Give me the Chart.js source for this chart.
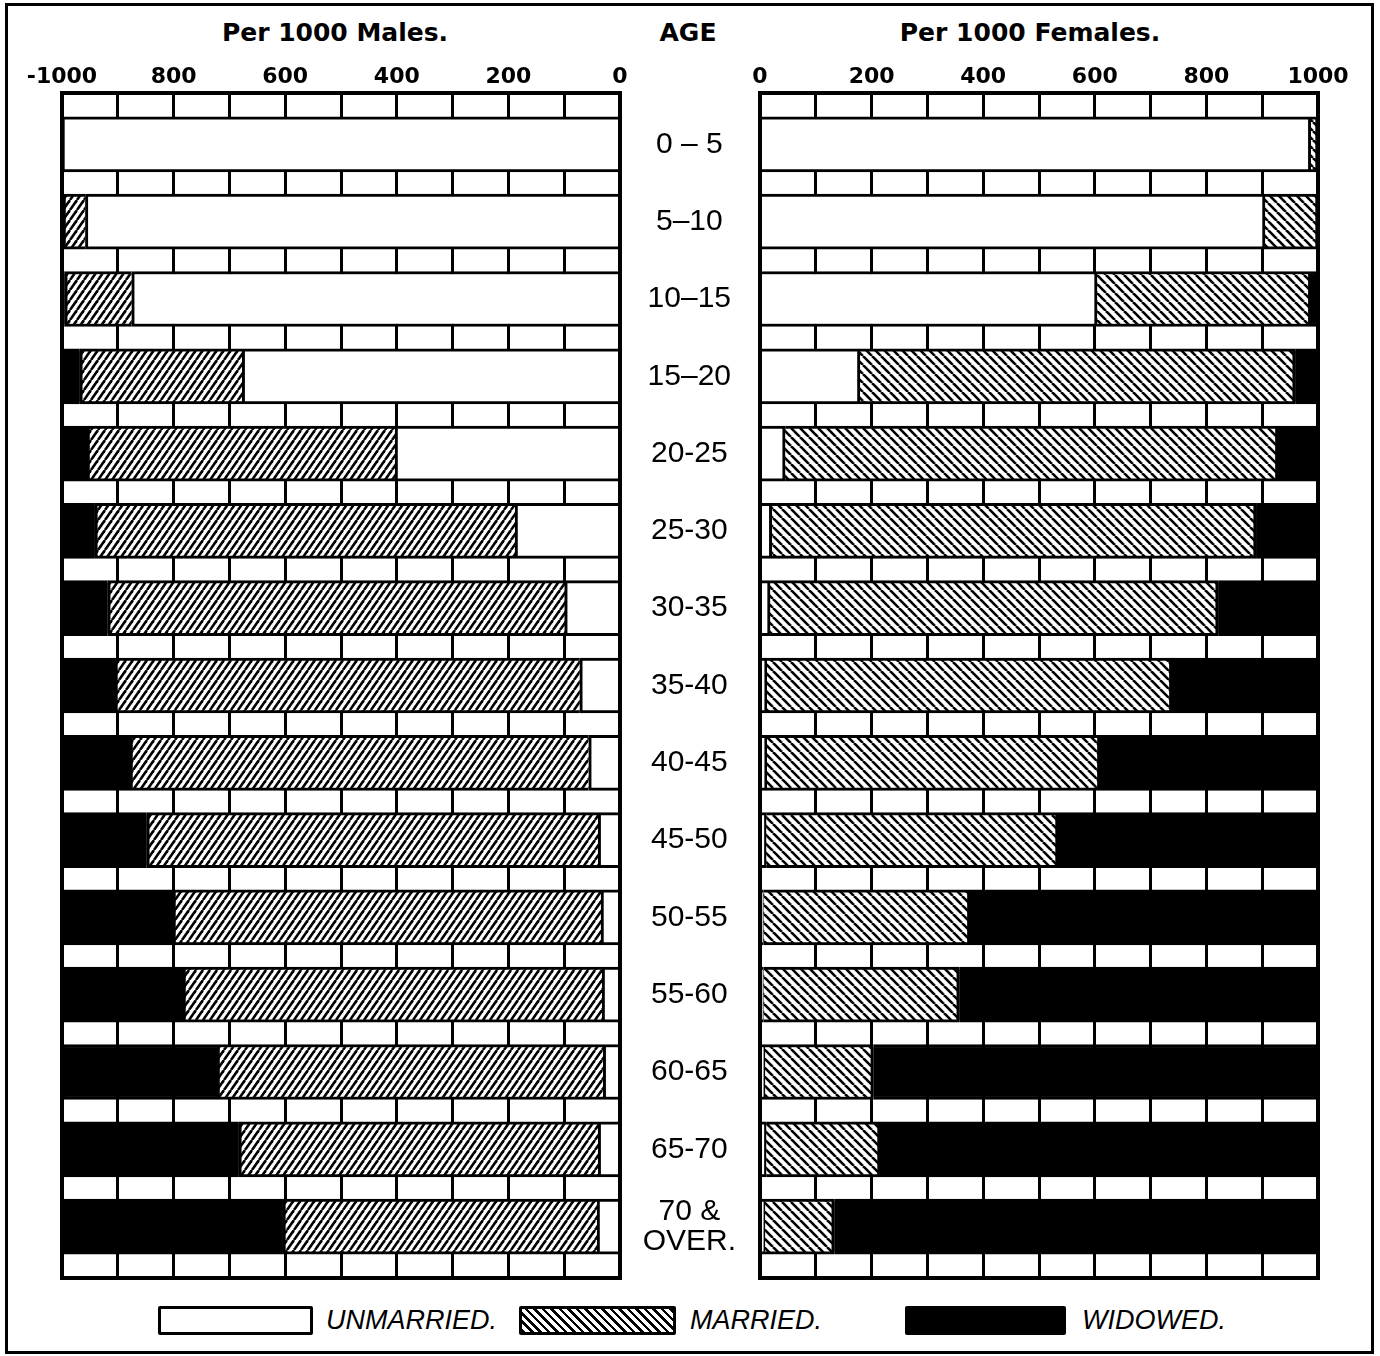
<!DOCTYPE html>
<html>
<head>
<meta charset="utf-8">
<script src="https://cdn.jsdelivr.net/npm/chart.js@4.4.1/dist/chart.umd.min.js"></script>
<style>
	html, body { margin: 0; padding: 0; background: #fff; }
	#page { position: relative; width: 1380px; height: 1356px; overflow: hidden; font-family: 'DejaVu Sans', sans-serif; color: #000; }
	#frame { position: absolute; left: 5px; top: 3px; width: 1363px; height: 1345px; border: 3px solid #000; }
	.head { position: absolute; top: 15px; line-height: 36px; font-size: 25px; font-weight: bold; text-align: center; }
	canvas { position: absolute; }
	.box { position: absolute; top: 1306px; height: 23px; border: 3px solid #000; border-radius: 2px; }
	.lbl { position: absolute; top: 1302px; line-height: 36px; font-family: 'Liberation Sans', sans-serif; font-style: italic; font-size: 27px; }
</style>
</head>
<body>
<div id="page">
	<div id="frame"></div>
	<div class="head" style="left:135px;width:400px;">Per 1000 Males.</div>
	<div class="head" style="left:638px;width:100px;">AGE</div>
	<div class="head" style="left:830px;width:400px;">Per 1000 Females.</div>

	<canvas id="males" width="640" height="1240" style="left:0;top:50px;width:640px;height:1240px;"></canvas>
	<canvas id="females" width="740" height="1240" style="left:620px;top:50px;width:740px;height:1240px;"></canvas>

	<div class="box" style="left:158px;width:149px;background:#fff;"></div>
	<div class="lbl" style="left:326px;">UNMARRIED.</div>
	<div class="box" style="left:519px;width:151px;background:repeating-linear-gradient(45deg,#000 0 2.5px,#fff 2.5px 6px);"></div>
	<div class="lbl" style="left:690px;">MARRIED.</div>
	<div class="box" style="left:905px;width:155px;background:#000;"></div>
	<div class="lbl" style="left:1082px;">WIDOWED.</div>
</div>

<script>
// Age groups (top to bottom)
const ages = ['0 – 5', '5–10', '10–15', '15–20', '20-25', '25-30', '30-35', '35-40',
	'40-45', '45-50', '50-55', '55-60', '60-65', '65-70', ['70 &', 'OVER.']];

// Per 1000 males
const maleUnmarried = [1000, 958, 875, 677, 403, 188, 99, 72, 56, 39, 34, 32, 30, 39, 41];
const maleMarried   = [0, 40, 120, 291, 552, 753, 819, 833, 822, 809, 767, 751, 692, 644, 563];
const maleWidowed   = [0, 2, 5, 32, 45, 59, 82, 95, 122, 152, 199, 217, 278, 317, 396];

// Per 1000 females
const femaleUnmarried = [987, 905, 604, 179, 45, 21, 18, 12, 12, 11, 6, 6, 9, 11, 9];
const femaleMarried   = [13, 95, 383, 780, 883, 868, 803, 726, 597, 523, 370, 351, 194, 204, 124];
const femaleWidowed   = [0, 0, 13, 41, 72, 111, 179, 262, 391, 466, 624, 643, 797, 785, 867];

// x axis: grid every 100, labels every 200
const xMin = 0, xMax = 1000, xStep = 100, xLabelStep = 200;
// y axis: one unit per age group, with a gap above the first and below the last
const yMin = -0.665, yMax = ages.length - 0.335;

function toPoints(values) {
	return values.map((v, i) => ({ x: v, y: i }));
}

// diagonal hatch pattern, forward = '/' , else '\'
function makeHatch(w, h, forward) {
	const c = document.createElement('canvas');
	c.width = w;
	c.height = h;
	const g = c.getContext('2d');
	g.fillStyle = '#fff';
	g.fillRect(0, 0, w, h);
	g.strokeStyle = '#000';
	g.lineWidth = 2.6;
	for (let k = -1; k <= 1; k++) {
		g.beginPath();
		if (forward) {
			g.moveTo(k * w, h);
			g.lineTo((k + 1) * w, 0);
		} else {
			g.moveTo(k * w, 0);
			g.lineTo((k + 1) * w, h);
		}
		g.stroke();
	}
	return g.createPattern(c, 'repeat');
}

// black outline round the plot area
const framePlugin = {
	id: 'frame',
	afterDatasetsDraw(chart) {
		const a = chart.chartArea;
		const ctx = chart.ctx;
		ctx.save();
		ctx.strokeStyle = '#000';
		ctx.lineWidth = 4;
		ctx.strokeRect(a.left, a.top, a.right - a.left, a.bottom - a.top);
		ctx.restore();
	}
};

const tickFont = { family: 'DejaVu Sans', size: 22, weight: 'bold' };

function noPad(s) {
	s.paddingLeft = 0;
	s.paddingRight = 0;
	s.paddingTop = 0;
	s.paddingBottom = 0;
}

function xScale(reverse) {
	return {
		type: 'linear',
		position: 'top',
		reverse: reverse,
		stacked: true,
		min: xMin,
		max: xMax,
		ticks: {
			stepSize: xStep,
			autoSkip: false,
			maxRotation: 0,
			padding: 3,
			color: '#000',
			font: tickFont,
			callback: function(v) {
				if (v % xLabelStep !== 0) return '';
				if (reverse && v === xMax) return '-' + v;
				return String(v);
			}
		},
		grid: { color: '#000', lineWidth: 3, drawTicks: false },
		border: { display: false },
		afterFit: function(s) { s.height = 43; noPad(s); }
	};
}

function yScale(extra) {
	return Object.assign({
		type: 'linear',
		min: yMin,
		max: yMax,
		offset: false,
		grace: 0,
		bounds: 'data',
		reverse: true,
		stacked: true,
		grid: { display: false, drawTicks: false, offset: false },
		border: { display: false },
		afterDataLimits: function(s) { s.min = yMin; s.max = yMax; }
	}, extra);
}

function datasets(unmarried, married, widowed, hatch) {
	return [
		{ label: 'Unmarried', data: toPoints(unmarried), backgroundColor: '#fff' },
		{ label: 'Married', data: toPoints(married), backgroundColor: hatch },
		{ label: 'Widowed', data: toPoints(widowed), backgroundColor: '#000' }
	];
}

const barOptions = { barThickness: 55, borderColor: '#000', borderWidth: 3 };

document.addEventListener('DOMContentLoaded', function() {
	// Males : 0 on the right, 1000 on the left
	new Chart(document.getElementById('males'), {
		type: 'bar',
		data: { datasets: datasets(maleUnmarried, maleMarried, maleWidowed, makeHatch(7, 10, true)) },
		options: {
			indexAxis: 'y',
			responsive: false,
			animation: false,
			layout: { padding: { left: 62, right: 20, top: 0, bottom: 12 } },
			datasets: { bar: barOptions },
			plugins: { legend: { display: false }, tooltip: { enabled: false } },
			scales: {
				x: xScale(true),
				y: yScale({ display: false })
			}
		},
		plugins: [framePlugin]
	});

	// Females, with the age column as y axis
	new Chart(document.getElementById('females'), {
		type: 'bar',
		data: { datasets: datasets(femaleUnmarried, femaleMarried, femaleWidowed, makeHatch(9, 9, false)) },
		options: {
			indexAxis: 'y',
			responsive: false,
			animation: false,
			layout: { padding: { left: 0, right: 42, top: 0, bottom: 12 } },
			datasets: { bar: barOptions },
			plugins: { legend: { display: false }, tooltip: { enabled: false } },
			scales: {
				x: xScale(false),
				y: yScale({
					position: 'left',
					afterBuildTicks: function(s) { s.ticks = ages.map((a, i) => ({ value: i })); },
					ticks: {
						autoSkip: false,
						crossAlign: 'center',
						padding: 24,
						color: '#000',
						font: { family: 'Liberation Sans', size: 30, lineHeight: 1.0 },
						callback: function(v) { return ages[v]; }
					},
					afterFit: function(s) { s.width = 140; noPad(s); }
				})
			}
		},
		plugins: [framePlugin]
	});
});
</script>
</body>
</html>
